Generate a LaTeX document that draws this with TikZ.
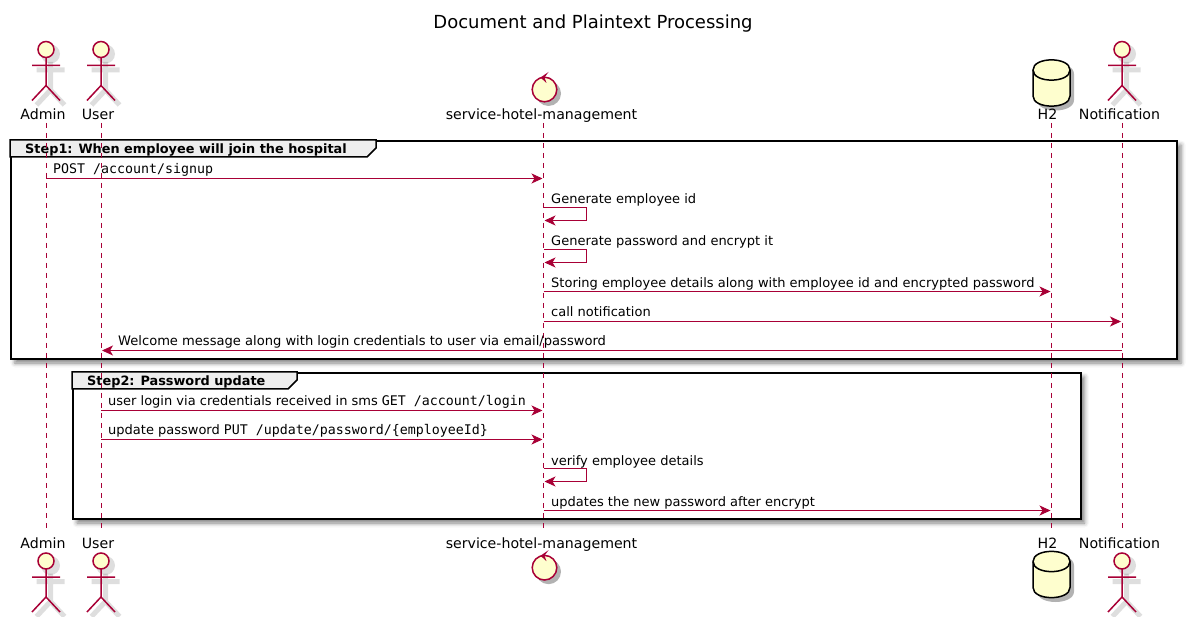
\documentclass[tikz,border=0pt]{standalone}
\usepackage{fontspec}
\setmainfont{DejaVu Sans}
\setmonofont[Scale=1.022]{DejaVu Sans Mono}
\usetikzlibrary{arrows.meta,shadows.blur}
\definecolor{umlred}{HTML}{A80036}
\definecolor{umlfill}{HTML}{FEFECE}
\definecolor{umltab}{HTML}{EEEEEE}
\tikzset{
	msg/.style={draw=umlred,line width=1pt,-{Stealth[length=11pt,width=10pt,inset=3pt]},shorten >=1pt},
	lifeline/.style={draw=umlred,line width=1pt,dash pattern=on 5pt off 5pt},
	msgtext/.style={anchor=base west,inner sep=0pt,font=\fontsize{13}{15}\selectfont},
	headtext/.style={anchor=base,inner sep=0pt,font=\fontsize{14.15}{16}\selectfont},
	grouptext/.style={anchor=base west,inner sep=0pt,font=\fontsize{12.85}{15}\selectfont\bfseries},
	groupbox/.style={draw=black,line width=2pt,fill=white,
		blur shadow={shadow xshift=4pt,shadow yshift=-4pt,shadow blur radius=4.5pt,shadow opacity=50}},
	grouptab/.style={draw=black,line width=1.5pt,fill=umltab},
	actorfig/.pic={
		\begin{scope}[xshift=4.5pt,yshift=-4.5pt,opacity=.13]
			\draw[black,line width=5pt] (0,8) -- (0,36) (-14,16) -- (14,16) (-14,51) -- (0,36) -- (14,51);
			\fill[black] (0,0) circle (9.5);
		\end{scope}
		\draw[umlred,line width=1.5pt,fill=umlfill] (0,0) circle (8);
		\draw[umlred,line width=1.5pt] (0,8) -- (0,36) (-14,16) -- (14,16) (-14,51) -- (0,36) -- (14,51);
	},
	controlfig/.pic={
		\fill[black,opacity=.3] (4,4) circle (12.5);
		\draw[umlred,line width=1.5pt,fill=umlfill] (0,0) circle (12.3);
		\fill[umlred] (4,-17.5) -- (-4,-12) -- (2,-6.5) -- (0,-12) -- cycle;
	},
	dbfig/.pic={
		\fill[black,opacity=.3] (-14.5,14) .. controls (-14.5,0) and (22.5,0) .. (22.5,14) -- (22.5,40)
			.. controls (22.5,54) and (-14.5,54) .. (-14.5,40) -- cycle;
		\draw[black,line width=1.5pt,fill=umlfill] (-18.5,10) .. controls (-18.5,-3.5) and (18.5,-3.5) .. (18.5,10) -- (18.5,36)
			.. controls (18.5,49.5) and (-18.5,49.5) .. (-18.5,36) -- cycle;
		\draw[black,line width=1.5pt] (-18.5,10) .. controls (-18.5,23.5) and (18.5,23.5) .. (18.5,10);
	}
}
\begin{document}
\begin{tikzpicture}[x=1pt,y=-1pt]
\useasboundingbox (0,0) rectangle (1189,617);

\node[anchor=base,inner sep=0pt,font=\fontsize{18}{20}\selectfont] (title) at (593,29) {Document and Plaintext Processing};

% groups
\node[groupbox,inner sep=0pt,minimum width=1166pt,minimum height=218pt,anchor=north west] (groupone) at (10,140) {};
\node[groupbox,inner sep=0pt,minimum width=1007.5pt,minimum height=146pt,anchor=north west] (grouptwo) at (72,372) {};
\draw[grouptab] (groupone.north west) -- (376,140) -- (376,148) -- (367,157) -- (10,157) -- cycle;
\draw[grouptab] (grouptwo.north west) -- (297,372) -- (297,380) -- (288,389) -- (72,389) -- cycle;
\node[grouptext] (groupone text) at (25,153.5) {Step1: When employee will join the hospital};
\node[grouptext] (grouptwo text) at (87,385.5) {Step2: Password update};

% lifelines
\coordinate (admintop) at (46,123);  \coordinate (adminbot) at (46,531);
\coordinate (usertop) at (101,123);  \coordinate (userbot) at (101,531);
\coordinate (svctop) at (543.5,123); \coordinate (svcbot) at (543.5,531);
\coordinate (dbtop) at (1051.5,123); \coordinate (dbbot) at (1051.5,531);
\coordinate (notiftop) at (1122,123); \coordinate (notifbot) at (1122,531);
\draw[lifeline] (admintop) -- (adminbot);
\draw[lifeline] (usertop) -- (userbot);
\draw[lifeline] (svctop) -- (svcbot);
\draw[lifeline] (dbtop) -- (dbbot);
\draw[lifeline] (notiftop) -- (notifbot);

% participants
\pic at (46,49.5) {actorfig};
\pic at (101,49.5) {actorfig};
\pic at (544.5,89.5) {controlfig};
\pic at (1051.5,60) {dbfig};
\pic at (1122,49.5) {actorfig};
\pic at (46,561) {actorfig};
\pic at (101,561) {actorfig};
\pic at (544.5,567.7) {controlfig};
\pic at (1051.5,551.5) {dbfig};
\pic at (1122,561) {actorfig};

\node[headtext] (admin head) at (43,120) {Admin};
\node[headtext] (user head) at (98,120) {User};
\node[headtext] (svc head) at (541.5,120) {service-hotel-management};
\node[headtext] (db head) at (1047.5,120) {H2};
\node[headtext] (notif head) at (1119.5,120) {Notification};
\node[headtext] (admin foot) at (43,548) {Admin};
\node[headtext] (user foot) at (98,548) {User};
\node[headtext] (svc foot) at (541.5,548) {service-hotel-management};
\node[headtext] (db foot) at (1047.5,548) {H2};
\node[headtext] (notif foot) at (1119.5,548) {Notification};

% step one
\coordinate (ya) at (0,178.5);
\node[msgtext] (ma) at (53,174) {\ttfamily POST /account/signup};
\draw[msg] (admintop |- ya) -- (svctop |- ya);

\node[msgtext] (mb) at (551,204) {Generate employee id};
\coordinate (yb) at (0,207.5); \coordinate (yc) at (0,220.5); \coordinate (xs) at (586.5,0);
\draw[msg] (svctop |- yb) -- (xs |- yb) -- (xs |- yc) -- (svctop |- yc);

\node[msgtext] (mc) at (551,246) {Generate password and encrypt it};
\coordinate (yd) at (0,249.5); \coordinate (ye) at (0,262.5);
\draw[msg] (svctop |- yd) -- (xs |- yd) -- (xs |- ye) -- (svctop |- ye);

\node[msgtext] (md) at (551,288) {Storing employee details along with employee id and encrypted password};
\coordinate (yf) at (0,291.5);
\draw[msg] (svctop |- yf) -- (dbtop |- yf);

\node[msgtext] (me) at (551,317) {call notification};
\coordinate (yg) at (0,321.5);
\draw[msg] (svctop |- yg) -- (notiftop |- yg);

\node[msgtext,font=\fontsize{13.08}{15}\selectfont] (mf) at (118,346) {Welcome message along with login credentials to user via email/password};
\coordinate (yh) at (0,350.5);
\draw[msg] (notiftop |- yh) -- (usertop |- yh);

% step two
\node[msgtext] (mg) at (108,406) {user login via credentials received in sms {\ttfamily GET /account/login}};
\coordinate (yi) at (0,410.5);
\draw[msg] (usertop |- yi) -- (svctop |- yi);

\node[msgtext] (mh) at (108,435) {update password {\ttfamily PUT /update/password/\{employeeId\}}};
\coordinate (yj) at (0,439.5);
\draw[msg] (usertop |- yj) -- (svctop |- yj);

\node[msgtext] (mi) at (551,465) {verify employee details};
\coordinate (yk) at (0,468.5); \coordinate (yl) at (0,481.5);
\draw[msg] (svctop |- yk) -- (xs |- yk) -- (xs |- yl) -- (svctop |- yl);

\node[msgtext] (mj) at (551,506) {updates the new password after encrypt};
\coordinate (ym) at (0,510.5);
\draw[msg] (svctop |- ym) -- (dbtop |- ym);
\end{tikzpicture}
\end{document}
